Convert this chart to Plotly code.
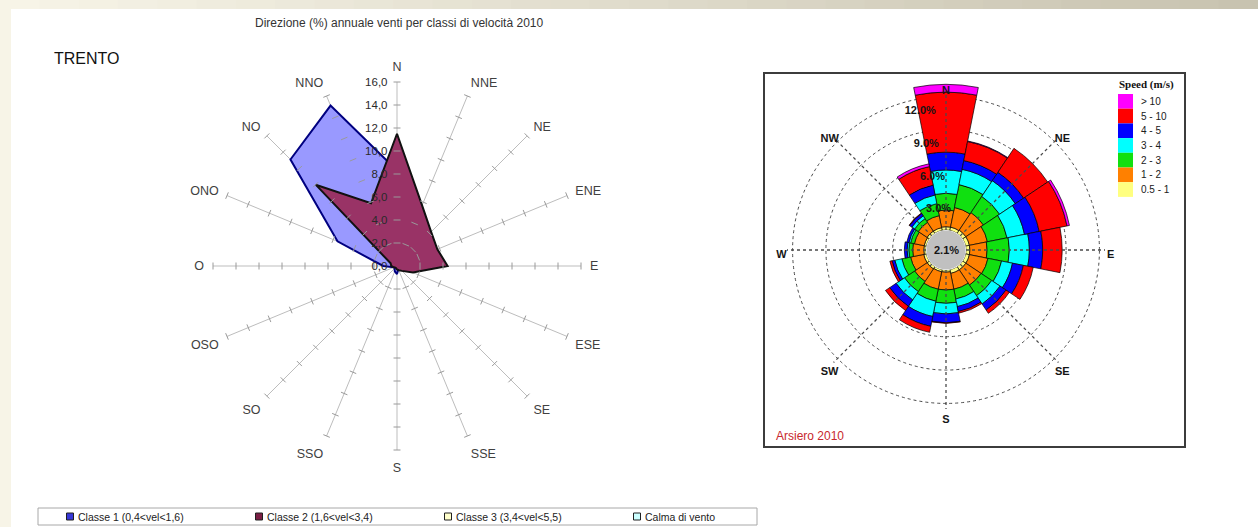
import plotly.graph_objects as go

W, H = 1258, 527
SANS = "Arial, 'Liberation Sans', sans-serif"
SERIF = "'Times New Roman', 'Liberation Serif', serif"


def px_x(x):
    return x / W


def px_y(y):
    return 1 - y / H


# ---------------- Trento: direction frequency (%) by speed class, 2010 ----------------
settori = ["N", "NNE", "NE", "ENE", "E", "ESE", "SE", "SSE",
           "S", "SSO", "SO", "OSO", "O", "ONO", "NO", "NNO"]
classe1 = [8.3, 1.0, 0.8, 0.6, 0.5, 0.4, 0.3, 0.3, 0.7, 0.5, 0.3, 0.3, 1.2, 5.6, 13.1, 15.1]
classe2 = [11.5, 5.7, 4.2, 3.8, 4.4, 1.5, 0.6, 0.4, 0.3, 0.2, 0.2, 0.3, 0.5, 0.6, 10.0, 5.9]
classe3 = [0.0, 0.0, 0.0, 0.0, 0.0, 0.0, 0.0, 0.0, 0.0, 0.0, 0.0, 0.0, 0.0, 0.0, 0.0, 0.0]
calma_vento = [0.0, 0.0, 0.0, 0.0, 0.0, 0.0, 0.0, 0.0, 0.0, 0.0, 0.0, 0.0, 0.0, 0.0, 0.0, 0.0]
scala_valori = [0, 2, 4, 6, 8, 10, 12, 14, 16]
scala_testo = ["0,0", "2,0", "4,0", "6,0", "8,0", "10,0", "12,0", "14,0", "16,0"]

classi_nomi = ["Classe 1 (0,4<vel<1,6)", "Classe 2 (1,6<vel<3,4)",
               "Classe 3 (3,4<vel<5,5)", "Calma di vento"]
classi_valori = [classe1, classe2, classe3, calma_vento]
classi_riempimento = ["#9999FF", "#993366", "#FFFFCC", "#CCFFFF"]
classi_bordo = ["#000080", "#111111", "#808000", "#008080"]
classi_legenda = ["#3838D8", "#7A1E44", "#FFFFCC", "#CCFFFF"]

# ---------------- Arsiero wind rose (right) ----------------
rosa_settori = ["N", "NNE", "NE", "ENE", "E", "ESE", "SE", "SSE",
                "S", "SSW", "SW", "WSW", "W", "WNW", "NW", "NNW"]
v_05_1 = [0.30, 0.30, 0.35, 0.35, 0.35, 0.35, 0.35, 0.35, 0.20, 0.20, 0.25, 0.25, 0.20, 0.20, 0.25, 0.25]
v_1_2 = [1.50, 1.80, 1.90, 1.65, 1.55, 1.70, 1.65, 1.45, 1.60, 1.60, 1.35, 1.20, 1.00, 0.90, 0.95, 1.10]
v_2_3 = [1.50, 2.10, 1.75, 1.80, 2.00, 1.25, 1.15, 0.90, 1.20, 1.10, 1.10, 0.80, 0.35, 0.35, 0.40, 1.10]
v_3_4 = [2.10, 1.40, 1.70, 1.60, 1.80, 1.00, 0.90, 0.70, 0.95, 1.40, 0.90, 0.65, 0.15, 0.15, 0.30, 0.80]
v_4_5 = [1.60, 0.80, 0.90, 1.35, 1.20, 1.00, 0.65, 0.45, 0.80, 0.90, 0.70, 0.25, 0.25, 0.20, 0.25, 0.90]
v_5_10 = [5.40, 1.75, 2.60, 2.55, 1.75, 0.90, 0.35, 0.15, 0.05, 0.55, 0.45, 0.20, 0.00, 0.00, 0.05, 1.70]
v_gt10 = [0.70, 0.05, 0.00, 0.22, 0.00, 0.00, 0.00, 0.00, 0.00, 0.00, 0.00, 0.00, 0.00, 0.00, 0.00, 0.25]
calma_pct = 2.1

classi_vel = ["0.5 - 1", "1 - 2", "2 - 3", "3 - 4", "4 - 5", "5 - 10", "> 10"]
valori_vel = [v_05_1, v_1_2, v_2_3, v_3_4, v_4_5, v_5_10, v_gt10]
colori_vel = ["#FFFF80", "#FF8000", "#10E010", "#00FFFF", "#0000FF", "#FF0000", "#FF00FF"]

rosa_etichette = ["N", "NE", "E", "SE", "S", "SW", "W", "NW"]
rosa_anelli = [3, 6, 9, 12]
rosa_anelli_testo = ["3.0%", "6.0%", "9.0%", "12.0%"]

# ---- geometry (pixels) ----
cx1, cy1, R1 = 397, 266, 184          # radar centre and radius of the 16,0 mark
cx2, cy2, hole_px = 946, 250, 20      # rose centre and calm-disk radius
rosa_max = 13.4                       # radial range of the rose (%)
rosa_px_per_pct = 11.12
R2 = hole_px + rosa_max * rosa_px_per_pct
raggi_len = 12.5                      # length of the dotted direction lines (%)
etichette_r = 13.0                    # where the direction names sit (%)

fig = go.Figure()

# ---- left radar ----
for nome, valori, fill, bordo in zip(classi_nomi, classi_valori, classi_riempimento, classi_bordo):
    fig.add_trace(go.Scatterpolar(
        r=valori + valori[:1], theta=settori + settori[:1],
        mode="lines", fill="toself", fillcolor=fill,
        line=dict(color=bordo, width=2), name=nome,
        showlegend=False, hoverinfo="skip", subplot="polar"))

# tick marks along every spoke
passo = 360 / len(settori)
fig.add_trace(go.Scatterpolar(
    r=[v for s in settori for v in scala_valori[1:]],
    theta=[s for s in settori for v in scala_valori[1:]],
    mode="markers", showlegend=False, hoverinfo="skip", subplot="polar",
    marker=dict(symbol="line-ew", size=5, color="#9A9A9A",
                line=dict(color="#9A9A9A", width=1),
                angle=[i * passo for i, s in enumerate(settori) for v in scala_valori[1:]])))

# ---- right wind rose ----
rosa_theta = [i * 360 / len(rosa_settori) for i in range(len(rosa_settori))]
for nome, valori, col in zip(classi_vel, valori_vel, colori_vel):
    fig.add_trace(go.Barpolar(
        r=valori, theta=rosa_theta, width=360 / len(rosa_settori), name=nome,
        marker=dict(color=col, line=dict(color="#000000", width=0.7)),
        showlegend=False, subplot="polar2", hoverinfo="skip"))

# dotted direction lines
dir_theta = [i * 360 / len(rosa_etichette) for i in range(len(rosa_etichette))]
r_raggi, t_raggi = [], []
for t in dir_theta:
    r_raggi += [0, raggi_len, None]
    t_raggi += [t, t, None]
fig.add_trace(go.Scatterpolar(
    r=r_raggi, theta=t_raggi, mode="lines",
    line=dict(color="#4a4a4a", width=1.3, dash="dot"),
    showlegend=False, hoverinfo="skip", subplot="polar2"))

fig.add_trace(go.Scatterpolar(
    r=[t - 1.1 for t in rosa_anelli], theta=[349.5] * len(rosa_anelli),
    text=["<b>%s</b>" % t for t in rosa_anelli_testo], mode="text",
    textfont=dict(family=SANS, size=11, color="#151515"),
    cliponaxis=False, showlegend=False, hoverinfo="skip", subplot="polar2"))
fig.add_trace(go.Scatterpolar(
    r=[etichette_r] * len(rosa_etichette), theta=dir_theta,
    text=["<b>%s</b>" % t for t in rosa_etichette], mode="text", textposition="bottom center",
    textfont=dict(family=SANS, size=11, color="#151515"),
    cliponaxis=False, showlegend=False, hoverinfo="skip", subplot="polar2"))

fig.update_layout(
    width=W, height=H, margin=dict(l=0, r=0, t=0, b=0),
    paper_bgcolor="white", font=dict(family=SANS, color="#333333"),
    showlegend=False,
    polar=dict(
        domain=dict(x=[px_x(cx1 - R1), px_x(cx1 + R1)], y=[px_y(cy1 + R1), px_y(cy1 - R1)]),
        bgcolor="rgba(0,0,0,0)",
        angularaxis=dict(type="category", categoryorder="array", categoryarray=settori,
                         direction="clockwise", rotation=90, showline=False,
                         gridcolor="#BDBDBD", gridwidth=1, ticks="outside", ticklen=6,
                         tickcolor="rgba(0,0,0,0)",
                         tickfont=dict(family=SANS, size=12.5, color="#404040")),
        radialaxis=dict(range=[0, 16], tickvals=scala_valori, ticktext=scala_testo,
                        angle=90, tickangle=90, side="counterclockwise", showgrid=False,
                        showline=False, ticks="outside", ticklen=5, tickcolor="rgba(0,0,0,0)",
                        tickfont=dict(family=SANS, size=11.5, color="#2a2a2a")),
    ),
    polar2=dict(
        domain=dict(x=[px_x(cx2 - R2), px_x(cx2 + R2)], y=[px_y(cy2 + R2), px_y(cy2 - R2)]),
        hole=hole_px / R2, bgcolor="white", barmode="stack",
        angularaxis=dict(direction="clockwise", rotation=90, showgrid=False,
                         showticklabels=False, ticks="", showline=False),
        radialaxis=dict(range=[0, rosa_max], tickvals=rosa_anelli, showticklabels=False,
                        ticks="", showline=False, angle=90,
                        gridcolor="#4a4a4a", griddash="dot", gridwidth=1.3),
    ),
)

shapes = []
# window frame: gradient band on top, cream strip on the left
n_band = 32
c0, c1 = (247, 244, 231), (200, 195, 176)
for i in range(n_band):
    t = i / (n_band - 1)
    col = "rgb(%d,%d,%d)" % tuple(round(a + (b - a) * t) for a, b in zip(c0, c1))
    shapes.append(dict(type="rect", xref="paper", yref="paper", layer="below",
                       x0=i / n_band, x1=(i + 1) / n_band + 0.001, y0=px_y(9), y1=1,
                       fillcolor=col, line=dict(width=0)))
shapes.append(dict(type="rect", xref="paper", yref="paper", layer="below",
                   x0=0, x1=px_x(11), y0=0, y1=px_y(9),
                   fillcolor="rgb(247,244,231)", line=dict(width=0)))
# wind rose frame
shapes.append(dict(type="rect", xref="paper", yref="paper", layer="below",
                   x0=px_x(764), x1=px_x(1185), y0=px_y(447), y1=px_y(73),
                   line=dict(color="#3c3c3c", width=2), fillcolor="white"))
# calm disk in the centre of the rose
rc = hole_px - 0.5
shapes.append(dict(type="circle", xref="paper", yref="paper", layer="above",
                   x0=px_x(cx2 - rc), x1=px_x(cx2 + rc), y0=px_y(cy2 + rc), y1=px_y(cy2 - rc),
                   fillcolor="#C0C0C0", line=dict(width=0)))

annotations = [
    dict(text="Direzione (%) annuale venti per classi di velocità 2010", x=px_x(399), y=px_y(23),
         xref="paper", yref="paper", showarrow=False, xanchor="center", yanchor="middle",
         font=dict(family=SANS, size=12, color="#333333")),
    dict(text="TRENTO", x=px_x(52), y=px_y(58), xref="paper", yref="paper", showarrow=False,
         xanchor="left", yanchor="middle", font=dict(family=SANS, size=16, color="#111111")),
    dict(text="Arsiero 2010", x=px_x(774), y=px_y(436), xref="paper", yref="paper",
         showarrow=False, xanchor="left", yanchor="middle",
         font=dict(family=SANS, size=12, color="#C8282E")),
    dict(text="<b>%.1f%%</b>" % calma_pct, x=px_x(cx2), y=px_y(cy2), xref="paper", yref="paper",
         showarrow=False, xanchor="center", yanchor="middle",
         font=dict(family=SANS, size=11, color="#151515")),
    dict(text="<b>Speed (m/s)</b>", x=px_x(1117), y=px_y(85), xref="paper", yref="paper",
         showarrow=False, xanchor="left", yanchor="middle",
         font=dict(family=SERIF, size=11, color="#111111")),
]

# speed legend: swatches stacked from the strongest class down
sw_h = 14.7
for k, (nome, col) in enumerate(zip(classi_vel[::-1], colori_vel[::-1])):
    top = 94 + k * sw_h
    shapes.append(dict(type="rect", xref="paper", yref="paper",
                       x0=px_x(1118), x1=px_x(1133), y0=px_y(top + sw_h), y1=px_y(top),
                       fillcolor=col, line=dict(width=0)))
    annotations.append(dict(text=nome, x=px_x(1139), y=px_y(top + sw_h / 2), xref="paper",
                            yref="paper", showarrow=False, xanchor="left", yanchor="middle",
                            font=dict(family=SANS, size=10, color="#202020")))

# class legend under the radar
shapes.append(dict(type="rect", xref="paper", yref="paper", layer="below",
                   x0=px_x(38), x1=px_x(757), y0=px_y(525), y1=px_y(508),
                   line=dict(color="#A8A8A8", width=1), fillcolor="white"))
leg_passo = 189
for k, (nome, col, bordo) in enumerate(zip(classi_nomi, classi_legenda, classi_bordo)):
    sx = 70 + k * leg_passo
    shapes.append(dict(type="rect", xref="paper", yref="paper",
                       x0=px_x(sx - 3.5), x1=px_x(sx + 3.5), y0=px_y(520), y1=px_y(513),
                       fillcolor=col, line=dict(color="#202020", width=1)))
    annotations.append(dict(text=nome, x=px_x(sx + 6), y=px_y(516.5), xref="paper",
                            yref="paper", showarrow=False, xanchor="left", yanchor="middle",
                            font=dict(family=SANS, size=10.5, color="#222222")))

fig.update_layout(shapes=shapes, annotations=annotations)
fig.write_html("out.html")
